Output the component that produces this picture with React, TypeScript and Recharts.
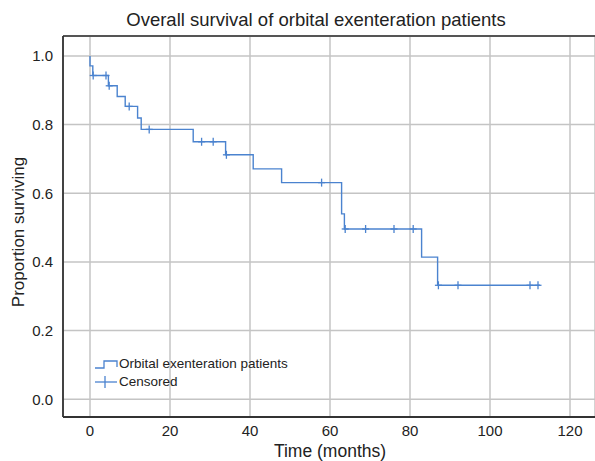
import React from 'react';
import {
  ComposedChart,
  Line,
  Scatter,
  XAxis,
  YAxis,
  CartesianGrid,
  ReferenceLine,
} from 'recharts';

// Kaplan-Meier step points (time in months, survival proportion)
const stepTimes = [0, 0, 0.7, 4.6, 6.8, 8.8, 11.9, 12.8, 25.8, 33.9, 40.8, 47.9, 62.9, 63.6, 82.9, 86.9, 112.5];
const stepSurvival = [1.0, 0.971, 0.943, 0.913, 0.882, 0.853, 0.819, 0.786, 0.75, 0.712, 0.671, 0.631, 0.54, 0.496, 0.414, 0.332, 0.332];

// censored observations
const censorTimes = [0.8, 4.0, 4.8, 9.8, 14.8, 27.9, 30.8, 34.1, 57.9, 63.8, 68.9, 76.0, 80.8, 87.1, 92.0, 110.0, 112.0];
const censorSurvival = [0.943, 0.943, 0.913, 0.853, 0.786, 0.75, 0.75, 0.712, 0.631, 0.496, 0.496, 0.496, 0.496, 0.332, 0.332, 0.332, 0.332];

const xTicks = [0, 20, 40, 60, 80, 100, 120];
const yTicks = [0, 0.2, 0.4, 0.6, 0.8, 1.0];

const stepData = stepTimes.map((t, i) => ({ t, s: stepSurvival[i] }));
const censorData = censorTimes.map((t, i) => ({ t, s: censorSurvival[i] }));

const BLUE = '#4b83cf';
const FONT = '"Liberation Sans", Arial, sans-serif';
const TEXT = '#222';
const Y_MAX = 1.058;

const CensorMark = (props: any) => {
  const { cx, cy } = props;
  if (cx == null || cy == null) return null;
  return (
    <g stroke={BLUE} strokeWidth={1.3}>
      <line x1={cx - 3.5} y1={cy} x2={cx + 3.5} y2={cy} />
      <line x1={cx} y1={cy - 4} x2={cx} y2={cy + 4} />
    </g>
  );
};

const KMLegend = () => (
  <div style={{ position: 'absolute', left: 93, top: 355, fontFamily: FONT, fontSize: 13.5, color: TEXT, lineHeight: '18px' }}>
    <div style={{ display: 'flex', alignItems: 'center' }}>
      <svg width={26} height={12}>
        <polyline points="2,10 11,10 11,3 24,3 24,9" fill="none" stroke={BLUE} strokeWidth={1.3} />
      </svg>
      <span>Orbital exenteration patients</span>
    </div>
    <div style={{ display: 'flex', alignItems: 'center' }}>
      <svg width={26} height={12}>
        <line x1={2} y1={6} x2={24} y2={6} stroke={BLUE} strokeWidth={1.3} />
        <line x1={12} y1={0} x2={12} y2={12} stroke={BLUE} strokeWidth={1.3} />
      </svg>
      <span>Censored</span>
    </div>
  </div>
);

const XLabel = () => (
  <text x={330} y={457} textAnchor="middle" fontSize={17.5} fill={TEXT} fontFamily={FONT}>
    Time (months)
  </text>
);

const YLabel = () => (
  <text
    x={24}
    y={232}
    transform="rotate(-90, 24, 232)"
    textAnchor="middle"
    fontSize={17}
    fill={TEXT}
    fontFamily={FONT}
  >
    Proportion surviving
  </text>
);

export default function App() {
  return (
    <div style={{ position: 'absolute', left: 0, top: 0, width: 595, height: 461, background: '#fff', overflow: 'hidden' }}>
      <div
        style={{
          position: 'absolute', left: 316, top: 9, transform: 'translateX(-50%)', whiteSpace: 'nowrap',
          fontFamily: FONT, fontSize: 18.5, color: TEXT,
        }}
      >
        Overall survival of orbital exenteration patients
      </div>
      <ComposedChart width={595} height={461} margin={{ top: 36, right: 0, bottom: 0, left: 0 }}>
        <CartesianGrid stroke="#c4c4c4" strokeWidth={1.5} />
        <XAxis
          type="number"
          dataKey="t"
          domain={[-6.75, 126.25]}
          ticks={xTicks}
          allowDataOverflow
          height={44}
          tickLine={false}
          axisLine={{ stroke: '#333', strokeWidth: 1.8 }}
          tick={{ fontSize: 15, fill: TEXT, fontFamily: FONT }}
          tickMargin={2}
          label={<XLabel />}
        />
        <YAxis
          type="number"
          dataKey="s"
          domain={[-0.0516, Y_MAX]}
          ticks={yTicks}
          allowDataOverflow
          width={63}
          tickLine={false}
          axisLine={{ stroke: '#333', strokeWidth: 1.8 }}
          tick={{ fontSize: 15, fill: TEXT, fontFamily: FONT }}
          tickFormatter={(v: number) => v.toFixed(1)}
          tickMargin={4}
          label={<YLabel />}
        />
        <ReferenceLine y={Y_MAX} stroke="#555" strokeWidth={2} ifOverflow="extendDomain" />
        <Line
          data={stepData}
          dataKey="s"
          type="stepAfter"
          stroke={BLUE}
          strokeWidth={1.4}
          dot={false}
          activeDot={false}
          isAnimationActive={false}
        />
        <Scatter data={censorData} dataKey="s" shape={<CensorMark />} isAnimationActive={false} />
      </ComposedChart>
      <KMLegend />
    </div>
  );
}
